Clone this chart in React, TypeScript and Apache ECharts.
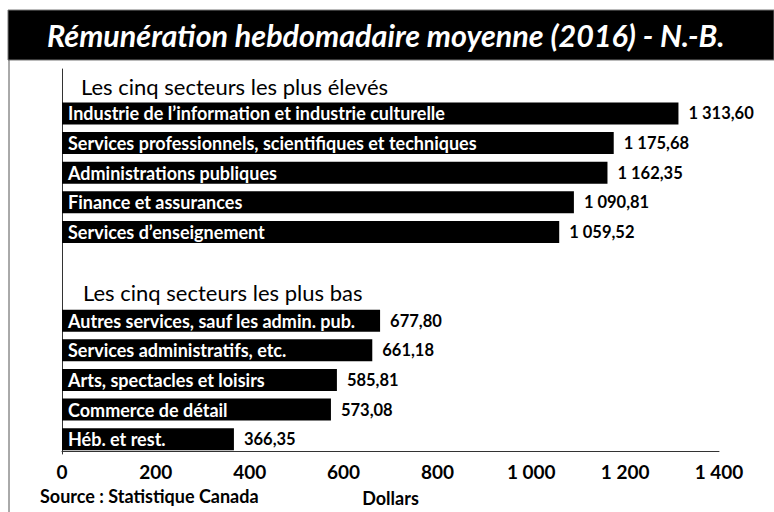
import React, { useEffect, useRef } from "react";
import * as echarts from "echarts";

const titleText = "Rémunération hebdomadaire moyenne (2016) - N.-B.";
const headingTop = "Les cinq secteurs les plus élevés";
const headingBottom = "Les cinq secteurs les plus bas";
const sourceText = "Source : Statistique Canada";
const axisName = "Dollars";

const topCategories = [
  "Industrie de l’information et industrie culturelle",
  "Services professionnels, scientifiques et techniques",
  "Administrations publiques",
  "Finance et assurances",
  "Services d’enseignement",
];
const topValues = [1313.6, 1175.68, 1162.35, 1090.81, 1059.52];

const bottomCategories = [
  "Autres services, sauf les admin. pub.",
  "Services administratifs, etc.",
  "Arts, spectacles et loisirs",
  "Commerce de détail",
  "Héb. et rest.",
];
const bottomValues = [677.8, 661.18, 585.81, 573.08, 366.35];

const xMin = 0;
const xMax = 1400;
const xInterval = 200;

const FONT = "Lato";

function frNumber(v: number, decimals: number): string {
  const s = v.toFixed(decimals);
  const [intPart, dec] = s.split(".");
  const grouped = intPart.replace(/\B(?=(\d{3})+(?!\d))/g, " ");
  return dec ? grouped + "," + dec : grouped;
}

export default function App() {
  const ref = useRef<HTMLDivElement>(null);
  useEffect(() => {
    document.body.style.margin = "0";
    if (!ref.current) return;
    const chart = echarts.init(ref.current, undefined, { renderer: "svg" });

    const categories = ["__h1", ...topCategories, "__gap", "__h2", ...bottomCategories];
    const values: (number | null)[] = [null, ...topValues, null, null, ...bottomValues];

    chart.setOption({
      animation: false,
      backgroundColor: "#ffffff",
      grid: { left: 62, right: 55, top: 69, bottom: 57, containLabel: false },
      xAxis: {
        type: "value",
        min: xMin,
        max: xMax,
        interval: xInterval,
        offset: -3,
        axisLine: { show: true, lineStyle: { color: "#333", width: 1 } },
        axisTick: { show: false },
        splitLine: { show: false },
        axisLabel: {
          color: "#000",
          fontFamily: FONT,
          fontWeight: "bold",
          fontSize: 19,
          margin: 11,
          formatter: (v: number) => frNumber(v, 0),
        },
        name: axisName,
        nameLocation: "middle",
        nameGap: 38,
        nameTextStyle: { color: "#000", fontFamily: FONT, fontWeight: "bold", fontSize: 18 },
      },
      yAxis: {
        type: "category",
        data: categories,
        inverse: true,
        axisLine: { show: true, lineStyle: { color: "#333", width: 1 } },
        axisTick: { show: false },
        axisLabel: { show: false },
        splitLine: { show: false },
      },
      series: [
        {
          type: "bar",
          data: values,
          barWidth: 22,
          itemStyle: { color: "#000" },
          label: {
            show: true,
            position: "insideLeft",
            distance: 6,
            formatter: (p: any) => p.name,
            color: "#fff",
            fontFamily: FONT,
            fontWeight: "bold",
            fontSize: 18,
          },
          z: 2,
        },
        {
          type: "bar",
          data: values,
          barWidth: 22,
          barGap: "-100%",
          itemStyle: { color: "rgba(0,0,0,0)" },
          label: {
            show: true,
            position: "right",
            distance: 10,
            formatter: (p: any) => frNumber(p.value, 2),
            color: "#000",
            fontFamily: FONT,
            fontWeight: "bold",
            fontSize: 16.5,
          },
          silent: true,
          z: 3,
        },
      ],
      graphic: [
        {
          type: "rect",
          shape: { x: 8, y: 10, width: 766, height: 50 },
          style: { fill: "#000", stroke: "#777", lineWidth: 1 },
          silent: true,
        },
        {
          type: "text",
          x: 47,
          y: 35,
          style: {
            text: titleText,
            fill: "#fff",
            font: `italic bold 30.5px ${FONT}`,
            verticalAlign: "middle",
          },
          silent: true,
        },
        {
          type: "line",
          shape: { x1: 9, y1: 60, x2: 9, y2: 512 },
          style: { stroke: "#555", lineWidth: 1 },
          silent: true,
        },
        {
          type: "text",
          x: 81,
          y: 86,
          style: {
            text: headingTop,
            fill: "#000",
            font: `22px ${FONT}`,
            verticalAlign: "middle",
          },
          silent: true,
        },
        {
          type: "text",
          x: 83,
          y: 292,
          style: {
            text: headingBottom,
            fill: "#000",
            font: `22px ${FONT}`,
            verticalAlign: "middle",
          },
          silent: true,
        },
        {
          type: "text",
          x: 40,
          y: 496,
          style: {
            text: sourceText,
            fill: "#000",
            font: `bold 18px ${FONT}`,
            verticalAlign: "middle",
          },
          silent: true,
        },
      ],
    });
    return () => chart.dispose();
  }, []);
  return <div ref={ref} style={{ width: 774, height: 512 }} />;
}
